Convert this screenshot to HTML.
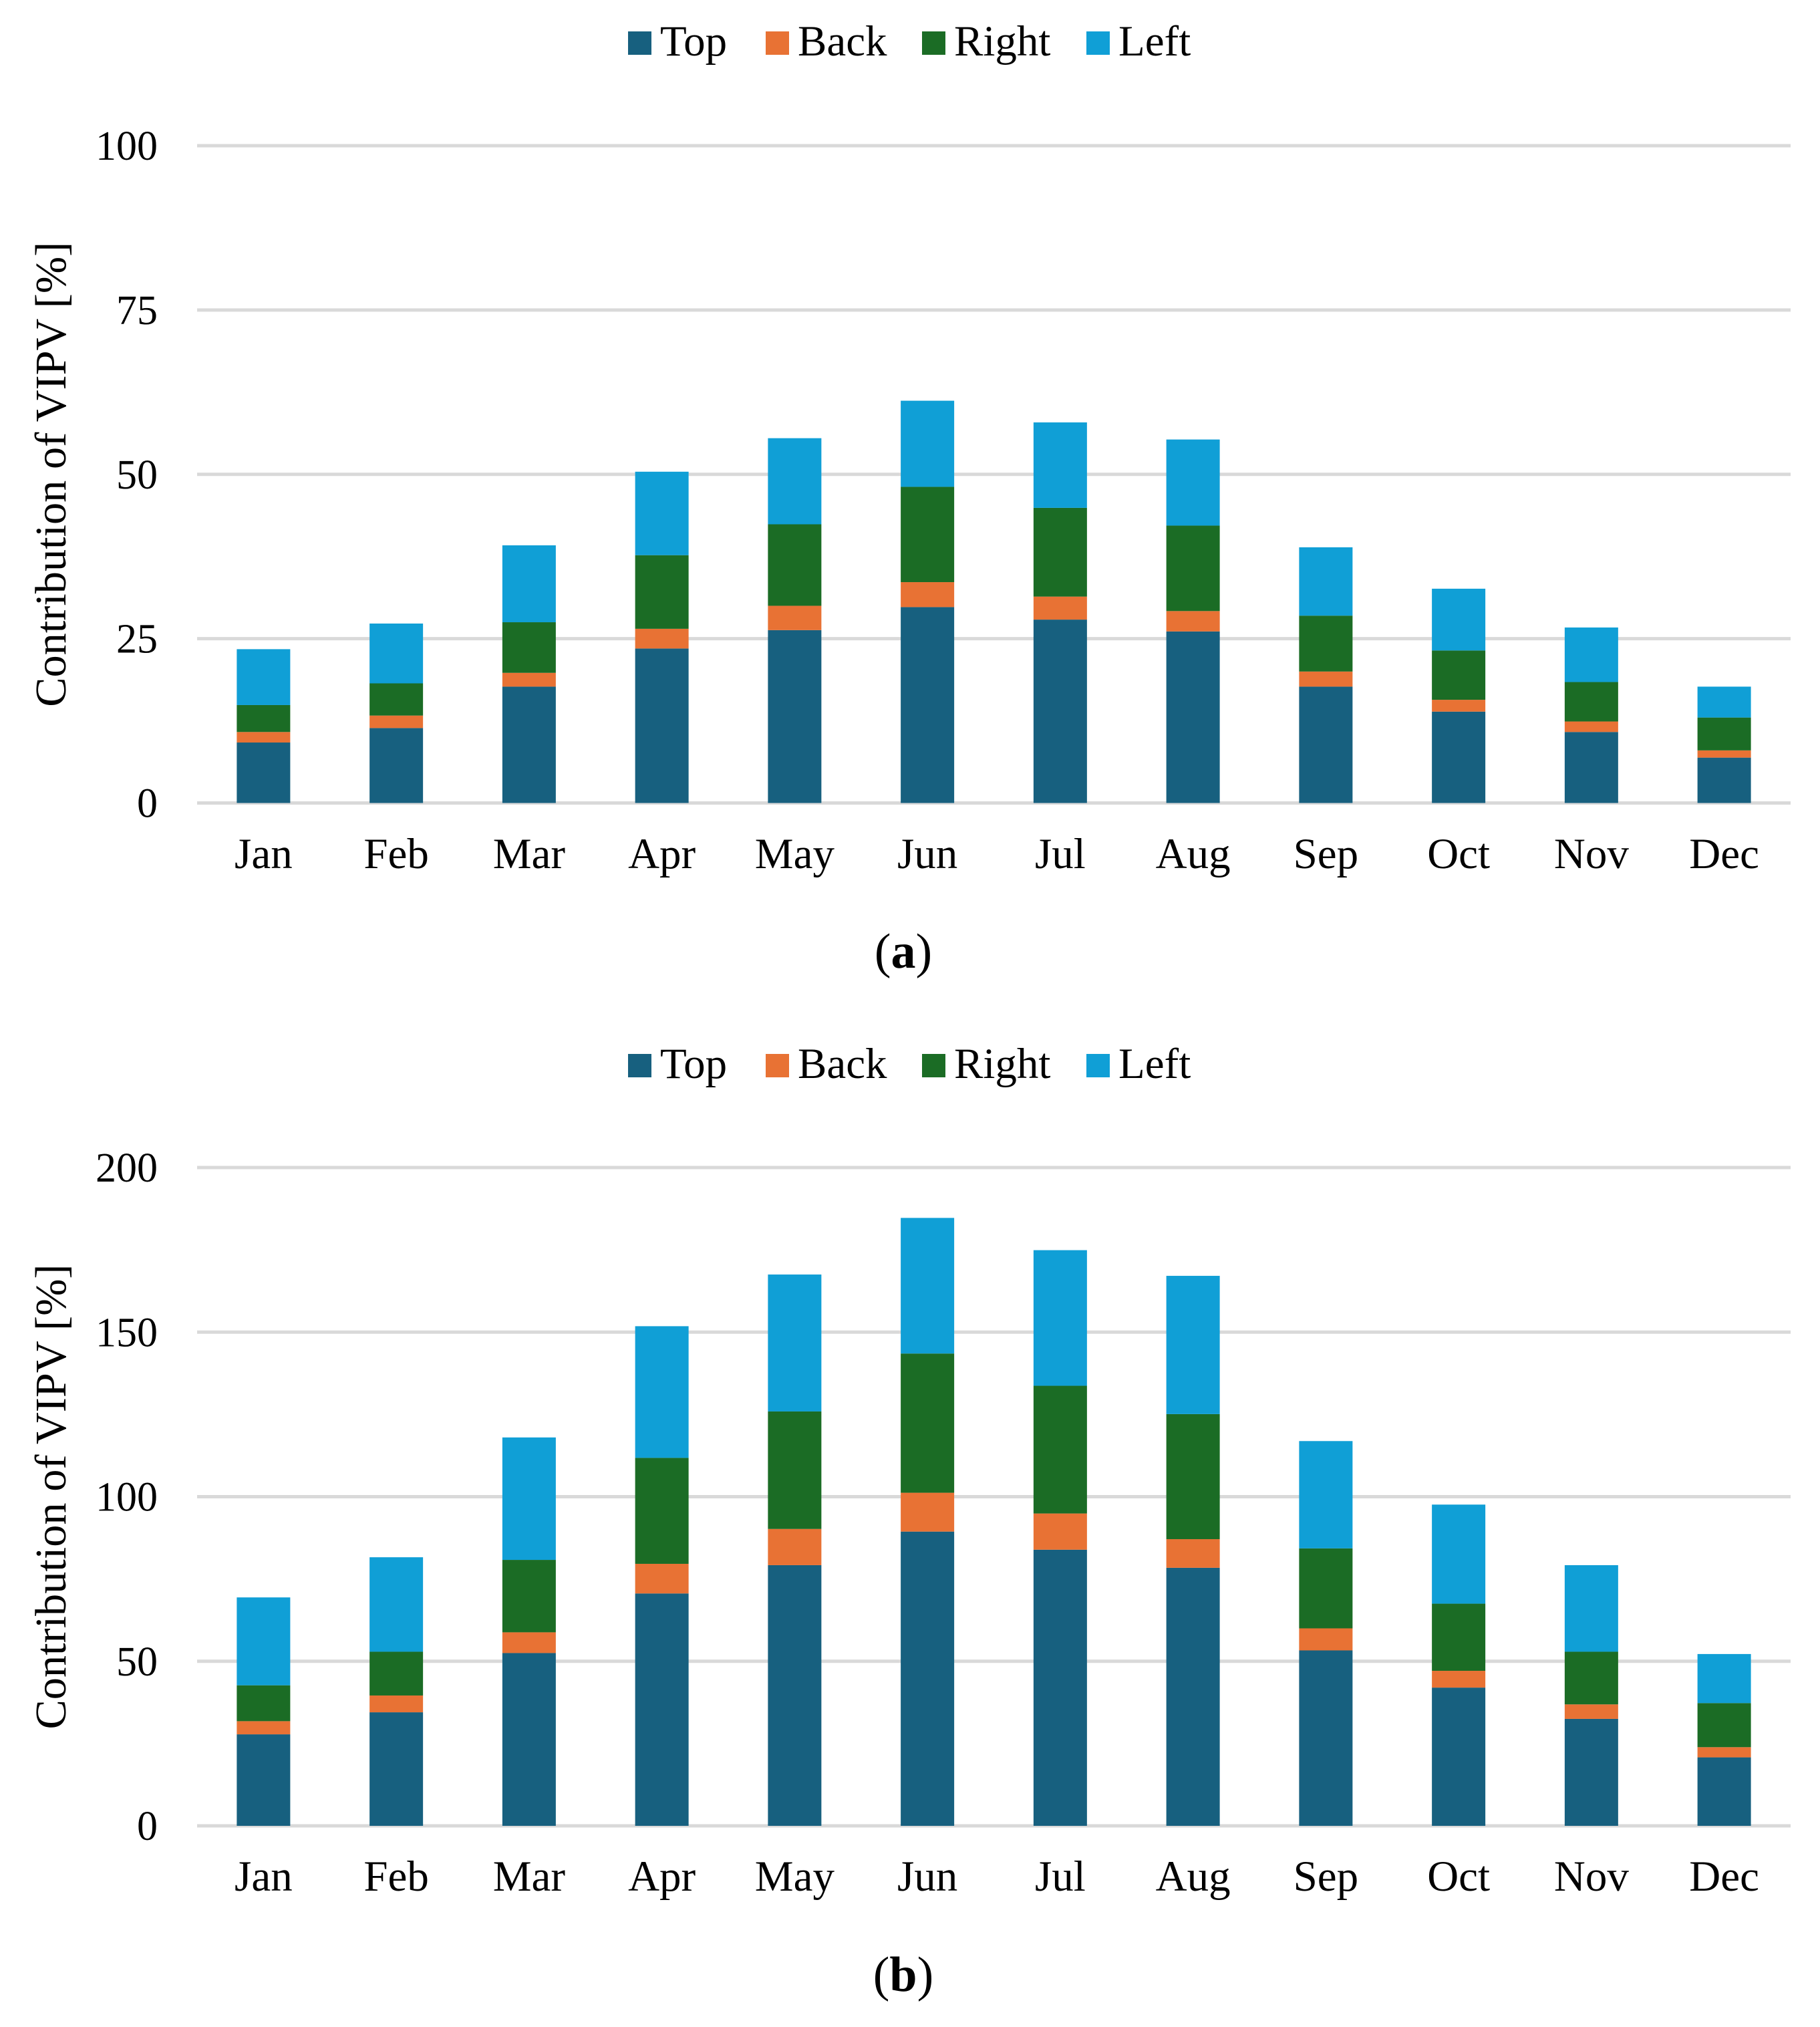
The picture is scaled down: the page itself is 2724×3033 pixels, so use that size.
<!DOCTYPE html>
<html><head><meta charset="utf-8"><style>
html,body{margin:0;padding:0;background:#fff;}
svg{display:block;font-family:"Liberation Serif",serif;}
text{font-family:"Liberation Serif",serif;fill:#000;}
</style></head><body>
<svg id="fig" width="2724" height="3033" viewBox="0 0 2724 3033" xmlns="http://www.w3.org/2000/svg" font-family="Liberation Serif, serif"></svg>
<script>
const months = ["Jan","Feb","Mar","Apr","May","Jun","Jul","Aug","Sep","Oct","Nov","Dec"];
const seriesNames = ["Top","Back","Right","Left"];
// chart (a) per-segment values
const aTop   = [9.2,11.4,17.7,23.5,26.3,29.8,27.9,26.1,17.7,13.9,10.8,6.9];
const aBack  = [1.6,1.9,2.1,3.0,3.7,3.8,3.5,3.1,2.3,1.8,1.6,1.1];
const aRight = [4.1,4.9,7.7,11.2,12.4,14.5,13.5,13.0,8.5,7.5,6.0,5.0];
const aLeft  = [8.5,9.1,11.7,12.7,13.1,13.1,13.0,13.1,10.4,9.4,8.3,4.7];
const aTicks = [0,25,50,75,100];
// chart (b) per-segment values
const bTop   = [27.8,34.5,52.5,70.6,79.2,89.4,83.9,78.4,53.3,42.0,32.5,20.8];
const bBack  = [4.0,5.1,6.3,9.0,11.0,11.8,11.0,8.7,6.7,5.1,4.4,3.1];
const bRight = [10.9,13.3,22.0,32.2,35.7,42.3,38.8,38.0,24.3,20.4,16.0,13.4];
const bLeft  = [26.7,28.7,37.2,40.0,41.6,41.2,41.2,42.0,32.6,30.1,26.3,14.9];
const bTicks = [0,50,100,150,200];

const colors = ["#17607F","#E87234","#1B6C25","#109FD6"];
const FONT = "'Liberation Serif', serif";
const NS = "http://www.w3.org/2000/svg";
const svg = document.getElementById("fig");
function mk(tag, attrs, parent){
  const e = document.createElementNS(NS, tag);
  for (const k in attrs) e.setAttribute(k, attrs[k]);
  if (tag === "text") e.setAttribute("font-family", FONT);
  (parent||svg).appendChild(e);
  return e;
}
function drawChart(prefix, series, ticks, y0px, ymaxPx, legendBase, monthBase, labelBase, label){
  const g = mk("g", {});
  
  
  const x0 = 295, x1 = 2680;
  const maxV = ticks[ticks.length-1];
  const yScale = v => y0px - (v / maxV) * (y0px - ymaxPx);
  const band = (x1 - x0) / months.length;
  const xCenter = i => x0 + band * (i + 0.5);
  const bw = 80;
  ticks.forEach(t => {
    const ln = mk("line", {x1:x0, x2:x1, y1:yScale(t), y2:yScale(t), stroke:"#d9d9d9", "stroke-width":5}, g);
    
    
    const tx = mk("text", {x:236, y:yScale(t)+21, "text-anchor":"end", "font-size":62}, g);
    tx.textContent = t;
    
    
  });
  const yc = (y0px + ymaxPx) / 2;
  const yt = mk("text", {x:0, y:0, "text-anchor":"middle", "font-size":66, textLength:696, lengthAdjust:"spacingAndGlyphs", transform:"translate(98," + yc + ") rotate(-90)"}, g);
  yt.textContent = "Contribution of VIPV [%]";
  
  
  months.forEach((m, i) => {
    let cum = 0;
    series.forEach((s, k) => {
      const v = s[i];
      const yTop = yScale(cum + v), yBot = yScale(cum);
      const r = mk("rect", {x:xCenter(i)-bw/2, y:yTop, width:bw, height:yBot-yTop, fill:colors[k]}, g);
      
      
      cum += v;
    });
    const t = mk("text", {x:xCenter(i), y:monthBase, "text-anchor":"middle", "font-size":65}, g);
    t.textContent = m;
    
    
  });
  const sqX = [940,1146,1380,1626];
  seriesNames.forEach((n, k) => {
    const lg = mk("g", {}, g);
    
    
    mk("rect", {x:sqX[k], y:legendBase-36, width:35, height:35, fill:colors[k]}, lg);
    const t = mk("text", {x:sqX[k]+48, y:legendBase, "font-size":65}, lg);
    t.textContent = n;
  });
  const lab = mk("text", {x:1352, y:labelBase, "text-anchor":"middle", "font-size":74}, g);
  lab.innerHTML = '(<tspan font-weight="bold">' + label + '</tspan>)';
  
  
}
drawChart("a", [aTop,aBack,aRight,aLeft], aTicks, 1201.5, 218, 83, 1299, 1448, "a");
drawChart("b", [bTop,bBack,bRight,bLeft], bTicks, 2732, 1747, 1613, 2829, 2979, "b");
</script>
</body></html>
